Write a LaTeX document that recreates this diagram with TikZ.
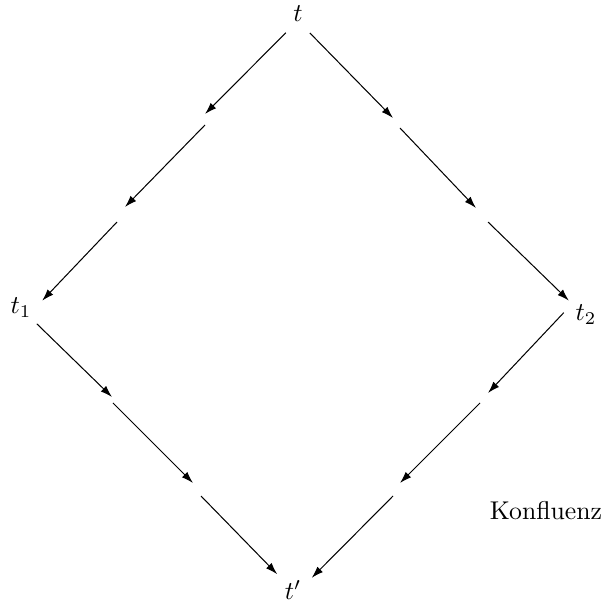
\documentclass[tikz,border=0pt]{standalone}
\usetikzlibrary{arrows.meta}
\begin{document}
\begin{tikzpicture}[x=0.389pt,y=-0.389pt,
  term/.style={circle,inner sep=0pt,minimum size=17pt},
  gap/.style={rectangle,inner sep=0pt,outer sep=0pt},
  red/.style={-{Latex[length=4.6pt,width=3pt]},line width=0.4pt}]
\useasboundingbox (0,0) rectangle (605,604);
\node[term] (t)  at (298,14)  {$t$};
\node[term] (t1) at (21,308)  {$t_1$};
\node[term] (t2) at (586,315) {$t_2$};
\node[term] (tp) at (293,590) {$t'$};
\node[gap,minimum width=0pt,minimum height=4.28pt] (g1) at (205,119.5) {};
\node[gap,minimum width=3.11pt,minimum height=5.84pt] (g2) at (121,214.5) {};
\node[gap,minimum width=2.72pt,minimum height=3.89pt] (g3) at (396.5,123) {};
\node[gap,minimum width=4.67pt,minimum height=5.45pt] (g4) at (482,215) {};
\node[gap,minimum width=0.39pt,minimum height=2.33pt] (g5) at (112.5,400) {};
\node[gap,minimum width=3.11pt,minimum height=5.06pt] (g6) at (197,489.5) {};
\node[gap,minimum width=3.11pt,minimum height=3.89pt] (g7) at (484,398) {};
\node[gap,minimum width=2.72pt,minimum height=5.06pt] (g8) at (396.5,489.5) {};
\node (k) at (546,511) {Konfluenz};
\draw[red] (t.237) -- (g1.north);
\draw[red] (g1.south) -- (g2.north east);
\draw[red] (g2.south west) -- (t1.19);
\draw[red] (t.302) -- (g3.north west);
\draw[red] (g3.south east) -- (g4.north west);
\draw[red] (g4.south east) -- (t2.140);
\draw[red] (t1.315) -- (g5.north west);
\draw[red] (g5.south east) -- (g6.north west);
\draw[red] (g6.south east) -- (tp.135);
\draw[red] (t2.174) -- (g7.north east);
\draw[red] (g7.south west) -- (g8.north east);
\draw[red] (g8.south west) -- (tp.33);
\end{tikzpicture}
\end{document}
